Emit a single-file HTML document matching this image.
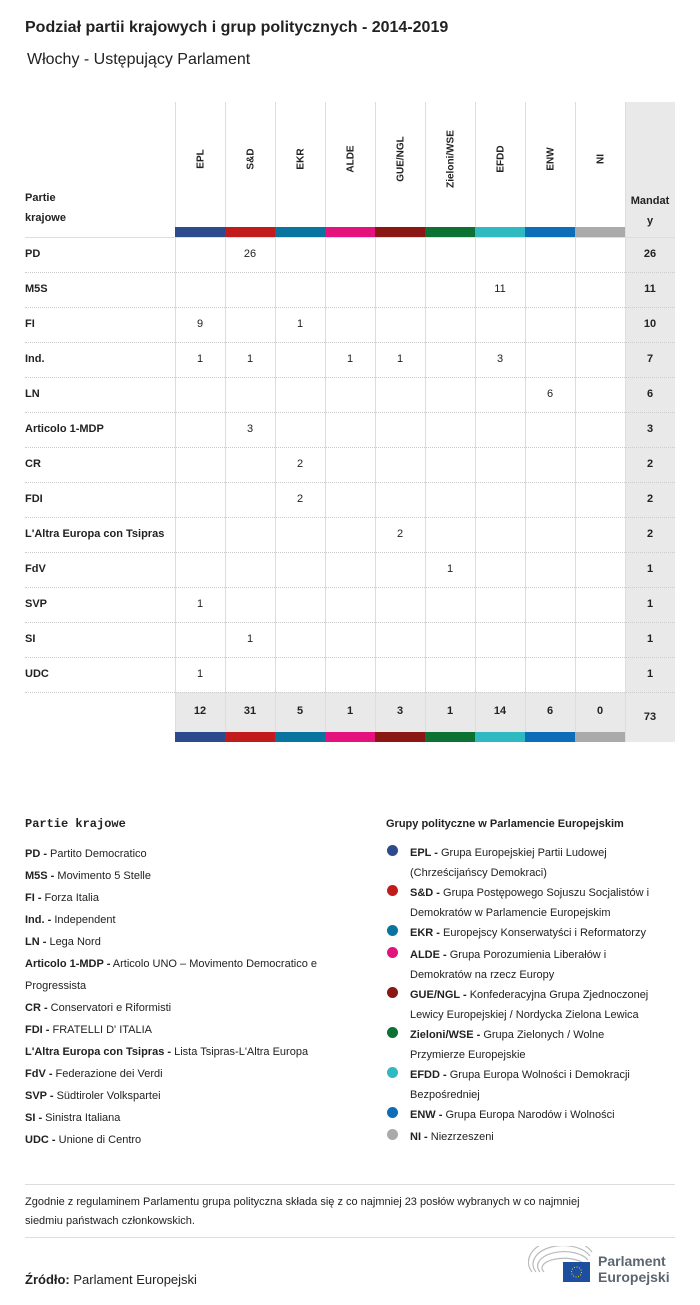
<!DOCTYPE html>
<html><head><meta charset="utf-8"><style>
body{margin:0;width:700px;height:1305px;background:#fff;font-family:"Liberation Sans",sans-serif;color:#222;position:relative;overflow:hidden}
.a{position:absolute}
.t{font-size:11px;white-space:nowrap}
b{font-weight:bold}
.vl{position:absolute;top:102px;height:640px;width:1px;background:#ddd}
.rot{position:absolute;top:159px;transform:translate(-50%,-50%) rotate(-90deg);font-size:10px;font-weight:bold;white-space:nowrap}
.c{position:absolute;width:50px;text-align:center;font-size:11px}
.dot{position:absolute;width:11px;height:11px;border-radius:50%}
</style></head><body>
<div class="a" style="left:25px;top:19px;font-size:16px;font-weight:bold">Podział partii krajowych i grup politycznych - 2014-2019</div>
<div class="a" style="left:27px;top:51px;font-size:16px">Włochy - Ustępujący Parlament</div>

<div class="a" style="left:625px;top:102px;width:50px;height:640px;background:#e9e9e9"></div>
<div class="a" style="left:175px;top:692px;width:450px;height:40px;background:#e9e9e9"></div>
<div class="a t" style="left:25px;top:188px;font-weight:bold;font-size:11px;line-height:20px">Partie<br>krajowe</div>
<div class="a t" style="left:628px;top:191px;width:44px;font-weight:bold;font-size:11px;line-height:20px;text-align:center">Mandat<br>y</div>
<div id="g"></div>
<script>
var cols=["#2c4a8c","#c21b1b","#0a74a0","#e3127c","#8a1714","#0c7233","#2fbac1","#0e6db8","#aaaaaa"];
var names=["EPL","S&D","EKR","ALDE","GUE/NGL","Zieloni/WSE","EFDD","ENW","NI"];
var h="";
for(var i=0;i<=9;i++){h+='<div class="vl" style="left:'+(175+i*50)+'px"></div>';}
for(var i=0;i<9;i++){var x=175+i*50;
h+='<div class="a" style="left:'+x+'px;top:227px;width:50px;height:10px;background:'+cols[i]+'"></div>';
h+='<div class="a" style="left:'+x+'px;top:732px;width:50px;height:10px;background:'+cols[i]+'"></div>';
h+='<div class="rot" style="left:'+(x+26)+'px">'+names[i].replace("&","&amp;")+'</div>';}
var rows=[["PD",{1:26},26],["M5S",{6:11},11],["FI",{0:9,2:1},10],["Ind.",{0:1,1:1,3:1,4:1,6:3},7],["LN",{7:6},6],["Articolo 1-MDP",{1:3},3],["CR",{2:2},2],["FDI",{2:2},2],["L'Altra Europa con Tsipras",{4:2},2],["FdV",{5:1},1],["SVP",{0:1},1],["SI",{1:1},1],["UDC",{0:1},1]];
h+='<div class="a" style="left:25px;top:237px;width:650px;height:1px;background:#ddd"></div>';
for(var r=0;r<rows.length;r++){var y=237+r*35;
h+='<div class="a t" style="left:25px;top:'+(y+11)+'px;font-weight:bold">'+rows[r][0]+'</div>';
for(var k in rows[r][1]){h+='<div class="c" style="left:'+(175+k*50)+'px;top:'+(y+11)+'px">'+rows[r][1][k]+'</div>';}
h+='<div class="c" style="left:625px;top:'+(y+11)+'px;font-weight:bold">'+rows[r][2]+'</div>';
h+='<div class="a" style="left:25px;top:'+(y+35)+'px;width:650px;border-top:1px dotted #ccc"></div>';}
var tot=[12,31,5,1,3,1,14,6,0];
for(var i=0;i<9;i++)h+='<div class="c" style="left:'+(175+i*50)+'px;top:705px;font-weight:bold">'+tot[i]+'</div>';
h+='<div class="c" style="left:625px;top:711px;font-weight:bold">73</div>';
document.getElementById("g").innerHTML=h;
</script>

<div class="a" style="left:25px;top:817px;font-family:'Liberation Mono',monospace;font-size:12px;font-weight:bold">Partie krajowe</div>
<div class="a" style="left:25px;top:843px;font-size:11px;line-height:22px;width:340px">
<b>PD -</b> Partito Democratico<br><b>M5S -</b> Movimento 5 Stelle<br><b>FI -</b> Forza Italia<br><b>Ind. -</b> Independent<br><b>LN -</b> Lega Nord<br><b>Articolo 1-MDP -</b> Articolo UNO – Movimento Democratico e Progressista<br><b>CR -</b> Conservatori e Riformisti<br><b>FDI -</b> FRATELLI D' ITALIA<br><b>L'Altra Europa con Tsipras -</b> Lista Tsipras-L'Altra Europa<br><b>FdV -</b> Federazione dei Verdi<br><b>SVP -</b> Südtiroler Volkspartei<br><b>SI -</b> Sinistra Italiana<br><b>UDC -</b> Unione di Centro</div>

<div class="a t" style="left:386px;top:818px;font-weight:bold">Grupy polityczne w Parlamencie Europejskim</div>
<div class="a" style="left:410px;top:843px;font-size:11px;line-height:20px;width:250px">
<div style="height:40px"><b>EPL -</b> Grupa Europejskiej Partii Ludowej (Chrześcijańscy Demokraci)</div>
<div style="height:40px"><b>S&amp;D -</b> Grupa Postępowego Sojuszu Socjalistów i Demokratów w Parlamencie Europejskim</div>
<div style="height:22px;white-space:nowrap"><b>EKR -</b> Europejscy Konserwatyści i Reformatorzy</div>
<div style="height:40px"><b>ALDE -</b> Grupa Porozumienia Liberałów i Demokratów na rzecz Europy</div>
<div style="height:40px"><b>GUE/NGL -</b> Konfederacyjna Grupa Zjednoczonej Lewicy Europejskiej / Nordycka Zielona Lewica</div>
<div style="height:40px"><b>Zieloni/WSE -</b> Grupa Zielonych / Wolne Przymierze Europejskie</div>
<div style="height:40px"><b>EFDD -</b> Grupa Europa Wolności i Demokracji Bezpośredniej</div>
<div style="height:22px"><b>ENW -</b> Grupa Europa Narodów i Wolności</div>
<div><b>NI -</b> Niezrzeszeni</div></div>
<div class="dot" style="left:387px;top:845px;background:#2c4a8c"></div>
<div class="dot" style="left:387px;top:885px;background:#c21b1b"></div>
<div class="dot" style="left:387px;top:925px;background:#0a74a0"></div>
<div class="dot" style="left:387px;top:947px;background:#e3127c"></div>
<div class="dot" style="left:387px;top:987px;background:#8a1714"></div>
<div class="dot" style="left:387px;top:1027px;background:#0c7233"></div>
<div class="dot" style="left:387px;top:1067px;background:#2fbac1"></div>
<div class="dot" style="left:387px;top:1107px;background:#0e6db8"></div>
<div class="dot" style="left:387px;top:1129px;background:#aaaaaa"></div>

<div class="a" style="left:25px;top:1184px;width:650px;height:1px;background:#ddd"></div>
<div class="a" style="left:25px;top:1193px;font-size:11px;line-height:19px;width:585px">Zgodnie z regulaminem Parlamentu grupa polityczna składa się z co najmniej 23 posłów wybranych w co najmniej siedmiu państwach członkowskich.</div>
<div class="a" style="left:25px;top:1237px;width:650px;height:1px;background:#ddd"></div>
<div class="a" style="left:25px;top:1272px;font-size:13px"><b>Źródło:</b> Parlament Europejski</div>
<svg class="a" style="left:528px;top:1246px" width="66" height="38">
<g fill="none" stroke="#bbb" stroke-width="1.2"><path d="M4 26 A30 20 0 0 1 64 6"/><path d="M8 26 A26 16 0 0 1 62 10"/><path d="M12 26 A22 12 0 0 1 60 14"/><path d="M16 26 A18 8 0 0 1 56 18"/></g>
<rect x="35" y="16" width="27" height="20" fill="#1d4fa0"/><circle cx="48.5" cy="26" r="5" fill="none" stroke="#fc0" stroke-dasharray="1 1.6"/></svg>
<div class="a" style="left:598px;top:1253px;font-size:14px;font-weight:bold;color:#5c6670;line-height:16px">Parlament<br>Europejski</div>
</body></html>
